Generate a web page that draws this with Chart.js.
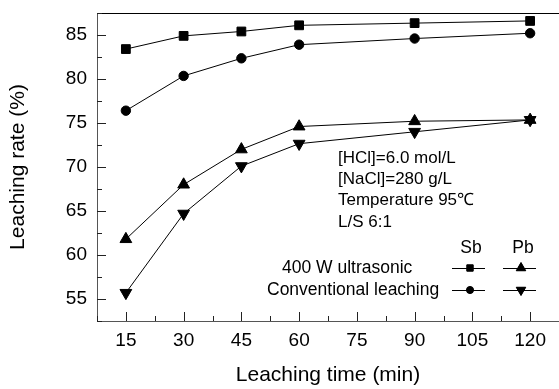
<!DOCTYPE html>
<html>
<head>
<meta charset="utf-8">
<script src="https://cdn.jsdelivr.net/npm/chart.js@4/dist/chart.umd.min.js"></script>
<style>
html,body{margin:0;padding:0;background:#fff;}
#wrap{width:559px;height:389px;position:relative;}
</style>
</head>
<body>
<div id="wrap"><canvas id="c" width="559" height="389"></canvas></div>
<script>
// ---- data ----
const times = [15, 30, 45, 60, 90, 120];
const sbUltrasonic = [83.4, 84.9, 85.4, 86.1, 86.35, 86.6];
const sbConventional = [76.4, 80.35, 82.35, 83.9, 84.6, 85.2];
const pbUltrasonic = [61.8, 68.0, 72.0, 74.6, 75.2, 75.35];
const pbConventional = [55.7, 64.7, 70.1, 72.65, 74.0, 75.35];
const xTicks = [15, 30, 45, 60, 75, 90, 105, 120];
const yTicks = [55, 60, 65, 70, 75, 80, 85];
const xMinorTicks = [7.5, 22.5, 37.5, 52.5, 67.5, 82.5, 97.5, 112.5, 127.5];
const yMinorTicks = [52.5, 57.5, 62.5, 67.5, 72.5, 77.5, 82.5, 87.5];
const conditions = ['[HCl]=6.0 mol/L', '[NaCl]=280 g/L', 'Temperature 95\u2103', 'L/S 6:1'];
const legendRows = ['400 W ultrasonic', 'Conventional leaching'];
const legendCols = ['Sb', 'Pb'];

const FONT = '"Liberation Sans", Arial, Helvetica, sans-serif';
const pts = arr => arr.map((v, i) => ({x: times[i], y: v}));

function ds(label, data, style, radius, rotation) {
  return {
    label, data: pts(data), borderColor: '#000', backgroundColor: '#000',
    borderWidth: 1, pointStyle: style, pointRadius: radius, pointHoverRadius: radius,
    pointRotation: rotation || 0, pointBackgroundColor: '#000', pointBorderColor: '#000',
    pointBorderWidth: 1, tension: 0, clip: false
  };
}

const framePlugin = {
  id: 'frame',
  afterDraw(chart) {
    const {ctx, chartArea: a, scales: {x, y}} = chart;
    ctx.save();
    ctx.strokeStyle = '#000';
    ctx.lineWidth = 1;
    ctx.beginPath();
    ctx.moveTo(a.left, a.top + 0.5); ctx.lineTo(a.right, a.top + 0.5);
    ctx.stroke();
    ctx.strokeStyle = '#222';
    ctx.beginPath();
    xTicks.forEach(v => { const px = Math.round(x.getPixelForValue(v)) + 0.5; ctx.moveTo(px, a.bottom); ctx.lineTo(px, a.bottom - 9); });
    xMinorTicks.forEach(v => { const px = Math.round(x.getPixelForValue(v)) + 0.5; ctx.moveTo(px, a.bottom); ctx.lineTo(px, a.bottom - 5); });
    yTicks.forEach(v => { const py = Math.round(y.getPixelForValue(v)) + 0.5; ctx.moveTo(a.left, py); ctx.lineTo(a.left + 9, py); });
    yMinorTicks.forEach(v => { const py = Math.round(y.getPixelForValue(v)) + 0.5; ctx.moveTo(a.left, py); ctx.lineTo(a.left + 5, py); });
    ctx.stroke();

    // conditions text
    ctx.fillStyle = '#000';
    ctx.font = '17px ' + FONT;
    ctx.textBaseline = 'middle';
    ctx.textAlign = 'left';
    conditions.forEach((t, i) => ctx.fillText(t, 338, 158 + i * 21.3));

    // legend
    ctx.font = '17.5px ' + FONT;
    ctx.textAlign = 'center';
    ctx.fillText(legendCols[0], 471, 248);
    ctx.fillText(legendCols[1], 523, 248);
    ctx.textAlign = 'left';
    ctx.fillText(legendRows[0], 282, 268);
    ctx.fillText(legendRows[1], 267, 290);
    const marks = [
      [470, 268, 'rect', 4.5, 0], [521, 268, 'triangle', 5.5, 0],
      [470, 290, 'circle', 3.5, 0], [521, 290, 'triangle', 5.5, 180]
    ];
    marks.forEach(([cx, cy, st, r, rot]) => {
      ctx.strokeStyle = '#000'; ctx.lineWidth = 1;
      ctx.beginPath();
      ctx.moveTo(cx - 18, cy + 0.5); ctx.lineTo(cx + 15, cy + 0.5);
      ctx.stroke();
      ctx.fillStyle = '#000';
      Chart.helpers.drawPoint(ctx, {pointStyle: st, radius: r, rotation: rot, borderWidth: 1}, cx, cy);
      ctx.fill();
    });
    ctx.restore();
  }
};

new Chart(document.getElementById('c'), {
  type: 'line',
  data: {
    datasets: [
      ds('Sb 400 W ultrasonic', sbUltrasonic, 'rect', 6.2),
      ds('Sb Conventional leaching', sbConventional, 'circle', 4.7),
      ds('Pb 400 W ultrasonic', pbUltrasonic, 'triangle', 6.8),
      ds('Pb Conventional leaching', pbConventional, 'triangle', 6.8, 180)
    ]
  },
  options: {
    responsive: false,
    animation: false,
    events: [],
    layout: {autoPadding: false, padding: {top: 13, left: 0, right: 0, bottom: 0}},
    plugins: {legend: {display: false}, tooltip: {enabled: false}},
    scales: {
      x: {
        type: 'linear', min: 7.5, max: 127.5,
        afterFit(s) { s.height = 68; s.paddingLeft = 0; s.paddingRight = 0; },
        afterBuildTicks(s) { s.ticks = xTicks.map(v => ({value: v})); },
        grid: {display: false, drawTicks: false},
        border: {display: true, color: '#555', width: 1},
        ticks: {color: '#000', font: {family: FONT, size: 19}, padding: 8, maxRotation: 0, autoSkip: false},
        title: {display: true, text: 'Leaching time (min)', color: '#000', font: {family: FONT, size: 21}, padding: {top: 0, bottom: 1}}
      },
      y: {
        type: 'linear', min: 52.5, max: 87.5,
        afterFit(s) { s.width = 97; s.paddingTop = 0; s.paddingBottom = 0; },
        afterBuildTicks(s) { s.ticks = yTicks.map(v => ({value: v})); },
        grid: {display: false, drawTicks: false},
        border: {display: true, color: '#555', width: 1},
        ticks: {color: '#000', font: {family: FONT, size: 19}, padding: 10, autoSkip: false},
        title: {display: true, text: 'Leaching rate (%)', color: '#000', font: {family: FONT, size: 21}, padding: {top: 6, bottom: 0}}
      }
    }
  },
  plugins: [framePlugin]
});
</script>
</body>
</html>
